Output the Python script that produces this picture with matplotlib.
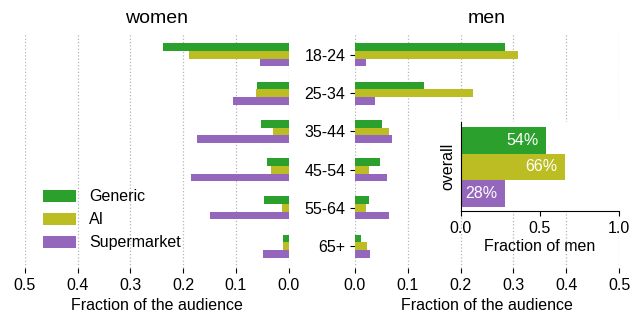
import matplotlib

matplotlib.use("Agg")
from matplotlib import pyplot as plt
import numpy as np

plt.rcParams["font.family"] = ["Liberation Sans", "DejaVu Sans"]
plt.rcParams["font.size"] = 11.5

age_groups = ["18-24", "25-34", "35-44", "45-54", "55-64", "65+"]
series = ["Generic", "AI", "Supermarket"]
colors = ["#2ca02c", "#bcbd22", "#9467bd"]

women_generic = [0.238, 0.060, 0.052, 0.041, 0.047, 0.011]
women_ai = [0.189, 0.062, 0.030, 0.034, 0.013, 0.011]
women_super = [0.054, 0.106, 0.174, 0.185, 0.149, 0.049]

men_generic = [0.285, 0.131, 0.051, 0.047, 0.027, 0.011]
men_ai = [0.308, 0.224, 0.065, 0.027, 0.021, 0.023]
men_super = [0.021, 0.038, 0.070, 0.061, 0.065, 0.028]

overall_men = [0.54, 0.66, 0.28]

fig = plt.figure(figsize=(6.41, 3.2), dpi=100)
ax_w = fig.add_axes([0.039, 0.1625, 0.4114, 0.734])
ax_m = fig.add_axes([0.5538, 0.1625, 0.4119, 0.734])

y = np.arange(len(age_groups))
height = 0.2
offsets = [-height, 0.0, height]

for ax, data, title in (
    (ax_w, [women_generic, women_ai, women_super], "women"),
    (ax_m, [men_generic, men_ai, men_super], "men"),
):
    for values, off, color, name in zip(data, offsets, colors, series):
        ax.barh(y + off, values, height=height, color=color, label=name)
    ax.set_ylim(len(age_groups) - 0.43, -0.57)
    ax.set_xticks([0.0, 0.1, 0.2, 0.3, 0.4, 0.5])
    ax.set_xlabel("Fraction of the audience")
    ax.set_title(title, fontsize=14, pad=7)
    ax.grid(axis="x", linestyle=":", color="#b5b5b5", linewidth=0.9)
    ax.set_axisbelow(True)
    for spine in ax.spines.values():
        spine.set_visible(False)

ax_w.set_xlim(0.5, 0.0)
ax_w.set_yticks([])
ax_w.legend(loc="lower left", frameon=False, handlelength=2.1,
            handleheight=0.8, borderaxespad=0.7)

ax_m.set_xlim(0.0, 0.5)
ax_m.set_yticks(y, age_groups)

# inset with overall share among men
ax_in = fig.add_axes([0.7187, 0.3406, 0.247, 0.278])
ax_in.barh(np.arange(3), overall_men, height=1.0, color=colors)
for yi, v in enumerate(overall_men):
    ax_in.text(v - 0.05, yi, f"{round(v * 100)}%", color="white",
               ha="right", va="center")
ax_in.set_xlim(0.0, 1.0)
ax_in.set_ylim(2.65, -0.68)
ax_in.set_xticks([0.0, 0.5, 1.0])
ax_in.set_yticks([])
ax_in.set_ylabel("overall", labelpad=4)
ax_in.set_xlabel("Fraction of men", labelpad=2)
ax_in.spines["top"].set_visible(False)
ax_in.spines["right"].set_visible(False)

fig.savefig("out.png", dpi=100)
